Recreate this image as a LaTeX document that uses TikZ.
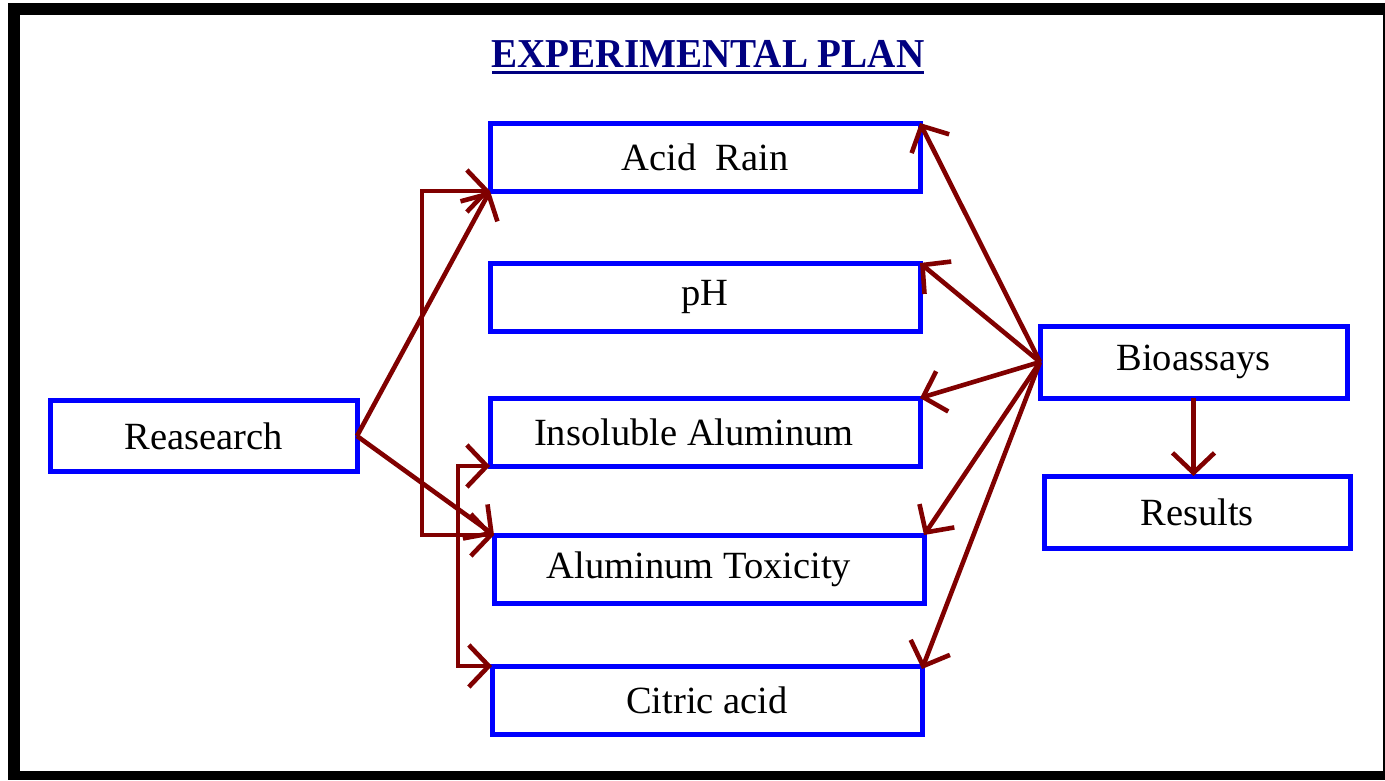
\documentclass[tikz,border=0pt]{standalone}
\usepackage{fontspec}
\setmainfont{Liberation Serif}
\usetikzlibrary{arrows.meta}
\definecolor{maroonline}{RGB}{128,0,0}
\definecolor{boxblue}{RGB}{0,0,255}
\definecolor{titlenavy}{RGB}{0,0,128}
\tikzset{
  plainbox/.style={draw=boxblue, line width=5pt, fill=white, inner sep=0pt, outer sep=0pt,
    minimum height=68pt, font=\fontsize{38.5}{40}\selectfont},
  arr/.style={draw=maroonline, line width=4.6pt,
    -{Straight Barb[length=20pt,width=42pt]}},
  biarr/.style={draw=maroonline, line width=4.6pt,
    {Straight Barb[length=20pt,width=42pt]}-{Straight Barb[length=20pt,width=42pt]}},
}
\begin{document}
\begin{tikzpicture}[x=1pt,y=-1pt]
\useasboundingbox (0,0) rectangle (1385,780);
% frame
\fill[black] (8,3) rectangle (1385,780);
\fill[white] (20,15) rectangle (1383,771);
% title
\node[text=titlenavy, font=\bfseries\fontsize{38}{40}\selectfont, inner sep=0pt] (title) at (708,54)
  {\scalebox{1.03}[1.08]{EXPERIMENTAL PLAN}};
\draw[titlenavy, line width=3pt] (492,72) -- (924,72);
% boxes
\node[plainbox, minimum width=430pt] (acid) at (705,157) {Acid\ \ Rain};
\node[plainbox, minimum width=430pt] (ph) at (705,297) {pH};
\node[plainbox, minimum width=430pt] (ins) at (705,432) {\hspace*{-22pt}Insoluble Aluminum};
\node[plainbox, minimum width=430pt] (tox) at (709,569) {\hspace*{-20pt}Aluminum Toxicity};
\node[plainbox, minimum width=430pt] (cit) at (707,700) {Citric acid};
\node[plainbox, minimum width=307pt, minimum height=71pt] (rea) at (203.5,436) {Reasearch};
\node[plainbox, minimum width=307pt, minimum height=72pt] (bio) at (1193.5,362) {Bioassays};
\node[plainbox, minimum width=306pt, minimum height=72pt] (resu) at (1197,512) {Results};
% bracket x positions
\coordinate (b1) at (422,0);
\coordinate (b2) at (458,0);
% left connectors
\draw[arr] (rea.east) -- (acid.south west);
\draw[arr] (rea.east) -- (tox.north west);
\draw[biarr] (acid.south west) -- (acid.south west -| b1) -- (tox.north west -| b1) -- (tox.north west);
\draw[biarr] (ins.south west) -- (ins.south west -| b2) -- (cit.north west -| b2) -- (cit.north west);
% right connectors
\draw[arr] (bio.west) -- (acid.north east);
\draw[arr] (bio.west) -- (ph.north east);
\draw[arr] (bio.west) -- (ins.north east);
\draw[arr] (bio.west) -- (tox.north east);
\draw[arr] (bio.west) -- ([yshift=-3pt]cit.north east);
\draw[arr] (bio.south) -- (resu.north -| bio.south);
\end{tikzpicture}
\end{document}
